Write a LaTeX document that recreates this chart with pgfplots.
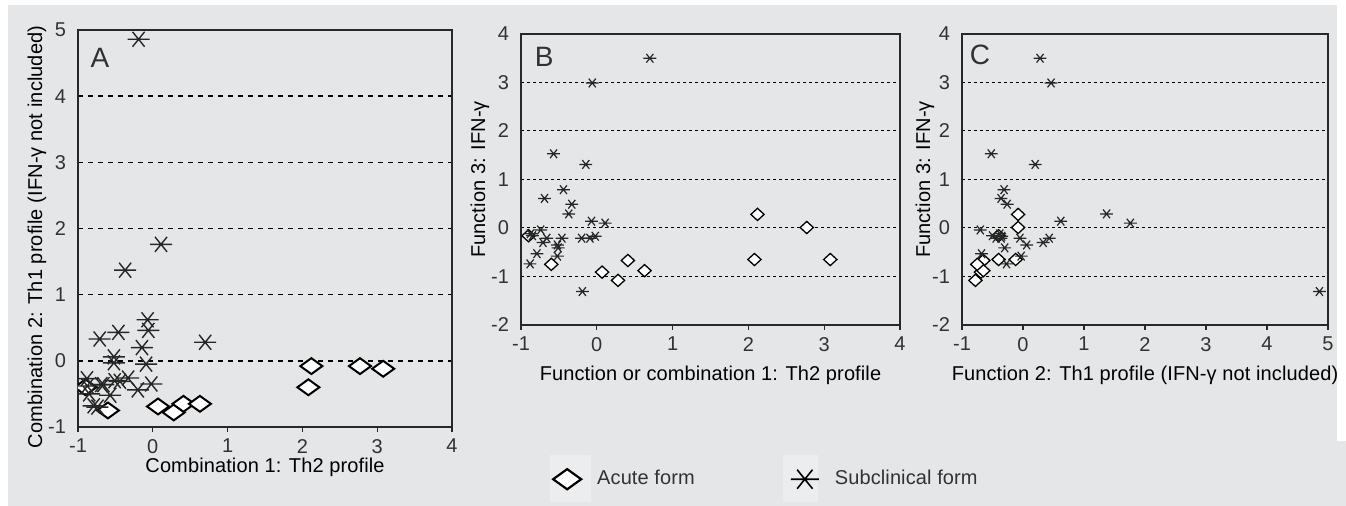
\documentclass[border=0pt]{standalone}
\usepackage{fontspec}
\setmainfont{Liberation Sans}[LetterSpace=0.6]
\usepackage{pgfplots}
\pgfplotsset{compat=1.18}
\usepackage{pgfplotstable}

\definecolor{bg}{RGB}{229,230,231}
\definecolor{bglite}{RGB}{236,237,238}
\definecolor{ink}{RGB}{40,40,40}
\definecolor{txt}{RGB}{50,50,50}

\pgfplotstableread{
f1 f2 f3
2.12 -0.08 0.28
2.77 -0.08 0.01
3.08 -0.12 -0.65
2.08 -0.40 -0.65
0.07 -0.69 -0.91
0.28 -0.78 -1.08
0.41 -0.65 -0.67
0.63 -0.65 -0.88
-0.60 -0.75 -0.75
-0.90 -0.40 -0.16
}\acutetab

\pgfplotstableread{
f1 f2 f3
0.70 0.28 3.50
-0.06 0.46 2.99
-0.57 -0.52 1.53
-0.145 0.20 1.31
-0.44 -0.31 0.79
-0.69 -0.36 0.61
-0.33 -0.26 0.49
-0.37 1.37 0.29
-0.07 0.62 0.14
0.11 1.76 0.10
-0.19 4.86 -1.31
-0.74 -0.70 -0.04
-0.71 0.33 -0.30
-0.46 0.43 -0.21
-0.52 0.06 -0.35
-0.52 -0.03 -0.58
-0.88 -0.27 -0.74
-0.79 -0.68 -0.53
-0.20 -0.44 -0.21
-0.09 -0.05 -0.21
-0.02 -0.35 -0.17
-0.875 -0.38 -0.12
-0.85 -0.50 -0.16
-0.66 -0.36 -0.21
-0.51 -0.30 -0.41
}\subtab

\pgfdeclareplotmark{wdiamond}{%
  \pgfpathmoveto{\pgfqpoint{-\pgfplotmarksize}{0pt}}%
  \pgfpathlineto{\pgfqpoint{0pt}{0.72\pgfplotmarksize}}%
  \pgfpathlineto{\pgfqpoint{\pgfplotmarksize}{0pt}}%
  \pgfpathlineto{\pgfqpoint{0pt}{-0.72\pgfplotmarksize}}%
  \pgfpathclose\pgfusepathqfillstroke}
\pgfdeclareplotmark{sdiamond}{%
  \pgfpathmoveto{\pgfqpoint{-\pgfplotmarksize}{0pt}}%
  \pgfpathlineto{\pgfqpoint{0pt}{0.92\pgfplotmarksize}}%
  \pgfpathlineto{\pgfqpoint{\pgfplotmarksize}{0pt}}%
  \pgfpathlineto{\pgfqpoint{0pt}{-0.92\pgfplotmarksize}}%
  \pgfpathclose\pgfusepathqfillstroke}
\pgfdeclareplotmark{hstar}{%
  \pgfpathmoveto{\pgfqpoint{-\pgfplotmarksize}{0pt}}%
  \pgfpathlineto{\pgfqpoint{\pgfplotmarksize}{0pt}}%
  \pgfpathmoveto{\pgfqpoint{-0.55\pgfplotmarksize}{-0.68\pgfplotmarksize}}%
  \pgfpathlineto{\pgfqpoint{0.55\pgfplotmarksize}{0.68\pgfplotmarksize}}%
  \pgfpathmoveto{\pgfqpoint{-0.55\pgfplotmarksize}{0.68\pgfplotmarksize}}%
  \pgfpathlineto{\pgfqpoint{0.55\pgfplotmarksize}{-0.68\pgfplotmarksize}}%
  \pgfusepathqstroke}

\newcommand{\tfont}{\fontsize{10}{12}\selectfont}
\pgfplotsset{
  panel/.style={
    scale only axis, anchor=south west,
    axis line style={draw=ink, line width=0.8pt},
    tick pos=left, tick align=outside, major tick length=2.5pt,
    xtick style={draw=ink, line width=0.6pt},
    ytick style={draw=none},
    ymajorgrids,
    tick label style={font=\tfont, text=txt},
    /pgf/number format/assume math mode=true,
    label style={font=\tfont, text=txt},
    xtick distance=1, ytick distance=1,
    every axis x label/.style={at={(axis description cs:0.5,0)}, anchor=center},
  },
}

\begin{document}
\begin{tikzpicture}
\useasboundingbox (0,0) rectangle (673pt,253pt);
\fill[bg] (4pt,32.5pt) rectangle (668.5pt,250.5pt);
\fill[bg] (4pt,0pt) rectangle (673pt,32.5pt);
\fill[bglite] (275pt,2pt) rectangle (295.3pt,25.5pt);
\fill[bglite] (391.5pt,2pt) rectangle (409pt,25.5pt);

% Panel A
\begin{axis}[panel,
  at={(39pt,39.5pt)}, width=187pt, height=198.5pt,
  xmin=-1, xmax=4, ymin=-1, ymax=5,
  clip marker paths=true,
  major grid style={draw=black, line width=0.7pt, dash pattern=on 2.6pt off 2.4pt},
  xlabel={Combination 1: Th2 profile},
  ylabel={Combination 2: Th1 profile (IFN-γ not included)},
  xlabel style={yshift=-20pt},
  every axis y label/.style={at={(axis description cs:0,0.479)}, anchor=center, xshift=-20.5pt, rotate=90},
]
\addplot[only marks, mark=wdiamond, mark size=5.5pt, mark options={fill=white, draw=black, line width=1pt}] table[x=f1, y=f2] {\acutetab};
\addplot[only marks, mark=hstar, mark size=5.5pt, mark options={draw=black!85, line width=0.7pt}] table[x=f1, y=f2] {\subtab};
\node[font=\fontsize{14}{16}\selectfont, text=txt] at (axis description cs:0.059,0.929) {A};
\end{axis}

% Panel B
\begin{axis}[panel,
  at={(260.5pt,90.5pt)}, width=189.5pt, height=145.5pt,
  xmin=-1, xmax=4, ymin=-2, ymax=4,
  major grid style={draw=black, line width=0.5pt, dash pattern=on 1.5pt off 1.5pt},
  xlabel={Function or combination 1: Th2 profile},
  ylabel={Function 3: IFN-γ},
  xlabel style={yshift=-25pt},
  every axis y label/.style={at={(axis description cs:0,0.5)}, anchor=center, xshift=-20.5pt, rotate=90},
  legend style={at={(axis description cs:0.068,-0.53)}, anchor=west, draw=none, fill=none,
    legend columns=2, font=\tfont, text=txt,
    /tikz/every odd column/.append style={column sep=6pt},
    /tikz/every even column/.append style={column sep=46pt}},
]
\addlegendimage{only marks, mark=wdiamond, mark size=7pt, mark options={fill=white, draw=black, line width=1.1pt}}
\addlegendentry{Acute form}
\addlegendimage{only marks, mark=hstar, mark size=7pt, mark options={draw=black, line width=0.8pt}}
\addlegendentry{Subclinical form}
\addplot[forget plot, only marks, mark=sdiamond, mark size=3.3pt, mark options={fill=white, draw=black, line width=0.65pt}] table[x=f1, y=f3] {\acutetab};
\addplot[forget plot, only marks, mark=hstar, mark size=3.2pt, mark options={draw=black!85, line width=0.6pt}] table[x=f1, y=f3] {\subtab};
\node[font=\fontsize{14}{16}\selectfont, text=txt] at (axis description cs:0.061,0.921) {B};
\end{axis}

% Panel C
\begin{axis}[panel,
  at={(481pt,90.5pt)}, width=183pt, height=145.5pt,
  xmin=-1, xmax=5, ymin=-2, ymax=4,
  major grid style={draw=black, line width=0.5pt, dash pattern=on 1.5pt off 1.5pt},
  xlabel={Function 2: Th1 profile (IFN-γ not included)},
  ylabel={Function 3: IFN-γ},
  xlabel style={yshift=-25pt},
  every axis y label/.style={at={(axis description cs:0,0.5)}, anchor=center, xshift=-18.5pt, rotate=90},
]
\addplot[only marks, mark=sdiamond, mark size=3.3pt, mark options={fill=white, draw=black, line width=0.65pt}] table[x=f2, y=f3] {\acutetab};
\addplot[only marks, mark=hstar, mark size=3.2pt, mark options={draw=black!85, line width=0.6pt}] table[x=f2, y=f3] {\subtab};
\node[font=\fontsize{14}{16}\selectfont, text=txt] at (axis description cs:0.049,0.928) {C};
\end{axis}
\end{tikzpicture}
\end{document}
